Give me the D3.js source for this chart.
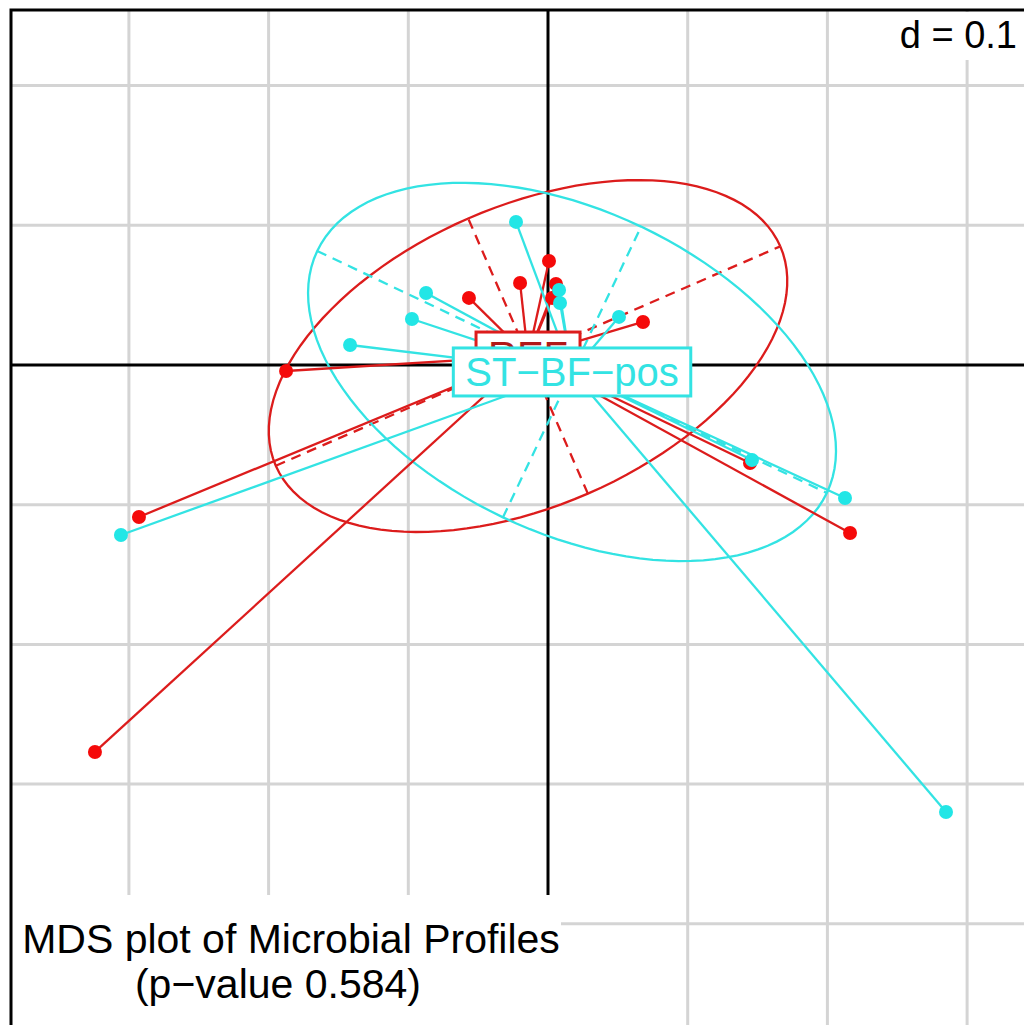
<!DOCTYPE html>
<html>
<head>
<meta charset="utf-8">
<script src="https://cdn.jsdelivr.net/npm/d3@7"></script>
<style>
  html, body { margin: 0; padding: 0; background: #fff; overflow: hidden; }
  text { font-family: "Liberation Sans", Arial, sans-serif; }
</style>
</head>
<body>
<div id="chart"></div>
<script>
// groups
const groups = ['REF', 'ST\u2212BF\u2212pos'];
const groupColors = ['#dc1c1c', '#33e3e3'];
const pointColors = ['#f50a0a', '#22e6e6'];
const labelTextColors = ['#b01818', '#33e3e3'];

// sample coordinates (MDS axis 1, axis 2)
const refX = [-0.3243, -0.2928, -0.1875, 0.2162, 0.1446, 0.0680, -0.0566, -0.0200, 0.0007, 0.0057, 0.0029];
const refY = [-0.2770, -0.1088, -0.0043, -0.1203, -0.0702, 0.0308, 0.0480, 0.0587, 0.0744, 0.0580, 0.0480];
const posX = [-0.3057, 0.2849, 0.2126, -0.1417, -0.0974, -0.0873, -0.0229, 0.0508, 0.0079, 0.0086, 0.1460];
const posY = [-0.1217, -0.3200, -0.0952, 0.0143, 0.0329, 0.0515, 0.1024, 0.0344, 0.0537, 0.0444, -0.0680];

// class centroids
const centroidX = [-0.0143, 0.0172];
const centroidY = [0.0064, -0.0050];

// ellipse semi axes and angle (degrees)
const ellipseA = [0.1969, 0.2019];
const ellipseB = [0.1074, 0.1152];
const ellipseAngle = [23.5, -25.4];

// grid
const xGrid = [-0.3, -0.2, -0.1, 0.1, 0.2, 0.3];
const yGrid = [-0.4, -0.3, -0.2, -0.1, 0.1, 0.2];

const titleLines = ['MDS plot of Microbial Profiles', '(p\u2212value 0.584)'];
const scaleLabel = 'd = 0.1';

const W = 1024, H = 1025;
const ppu = 1397;
const xFrame = [-0.3844, 0.40];
const yFrame = [-0.50, 0.2541];

const svg = d3.select('#chart').append('svg')
    .attr('width', W)
    .attr('height', H);

const xScale = d3.scaleLinear().domain(xFrame).range([11, 11 + (xFrame[1] - xFrame[0]) * ppu]);
const yScale = d3.scaleLinear().domain([yFrame[1], yFrame[0]]).range([10, 10 + (yFrame[1] - yFrame[0]) * ppu]);

svg.append('defs').append('clipPath').attr('id', 'frame')
    .append('rect')
    .attr('x', xScale(xFrame[0])).attr('y', yScale(yFrame[1]))
    .attr('width', xScale(xFrame[1]) - xScale(xFrame[0]))
    .attr('height', yScale(yFrame[0]) - yScale(yFrame[1]));

const plot = svg.append('g').attr('clip-path', 'url(#frame)');

// grid lines
plot.selectAll('.gx').data(xGrid).enter().append('line')
    .attr('x1', d => xScale(d)).attr('x2', d => xScale(d))
    .attr('y1', yScale(yFrame[1])).attr('y2', yScale(yFrame[0]))
    .style('stroke', '#d4d4d4').style('stroke-width', 3);
plot.selectAll('.gy').data(yGrid).enter().append('line')
    .attr('y1', d => yScale(d)).attr('y2', d => yScale(d))
    .attr('x1', xScale(xFrame[0])).attr('x2', xScale(xFrame[1]))
    .style('stroke', '#d4d4d4').style('stroke-width', 3);

// zero axes
plot.append('line')
    .attr('x1', xScale(0)).attr('x2', xScale(0))
    .attr('y1', yScale(yFrame[1])).attr('y2', yScale(yFrame[0]))
    .style('stroke', '#000').style('stroke-width', 3);
plot.append('line')
    .attr('y1', yScale(0)).attr('y2', yScale(0))
    .attr('x1', xScale(xFrame[0])).attr('x2', xScale(xFrame[1]))
    .style('stroke', '#000').style('stroke-width', 3);

const groupData = [
    refX.map((x, i) => ({ x: x, y: refY[i], g: 0 })),
    posX.map((x, i) => ({ x: x, y: posY[i], g: 1 }))
];

const line = d3.line().x(d => xScale(d[0])).y(d => yScale(d[1]));

// ellipses and their axes
groups.forEach((g, k) => {
    const cx = centroidX[k], cy = centroidY[k];
    const a = ellipseA[k], b = ellipseB[k];
    const th = ellipseAngle[k] * Math.PI / 180;
    const pts = d3.range(0, 121).map(i => {
        const t = i / 120 * 2 * Math.PI;
        return [cx + a * Math.cos(th) * Math.cos(t) - b * Math.sin(th) * Math.sin(t),
                cy + a * Math.sin(th) * Math.cos(t) + b * Math.cos(th) * Math.sin(t)];
    });
    plot.append('path').attr('d', line(pts))
        .style('fill', 'none').style('stroke', groupColors[k]).style('stroke-width', 2.3);

    const axes = [
        [[cx - a * Math.cos(th), cy - a * Math.sin(th)], [cx + a * Math.cos(th), cy + a * Math.sin(th)]],
        [[cx + b * Math.sin(th), cy - b * Math.cos(th)], [cx - b * Math.sin(th), cy + b * Math.cos(th)]]
    ];
    axes.forEach(seg => {
        plot.append('path').attr('d', line(seg))
            .style('fill', 'none').style('stroke', groupColors[k])
            .style('stroke-width', 2.3).style('stroke-dasharray', '10,7');
    });
});

// stars
groupData.forEach((pts, k) => {
    plot.selectAll('.star' + k).data(pts).enter().append('line')
        .attr('x1', xScale(centroidX[k])).attr('y1', yScale(centroidY[k]))
        .attr('x2', d => xScale(d.x)).attr('y2', d => yScale(d.y))
        .style('stroke', groupColors[k]).style('stroke-width', 2.3);
});

// points
groupData.forEach((pts, k) => {
    plot.selectAll('.pt' + k).data(pts).enter().append('circle')
        .attr('cx', d => xScale(d.x)).attr('cy', d => yScale(d.y))
        .attr('r', 7)
        .attr('fill', pointColors[k]);
});

// class labels
groups.forEach((g, k) => {
    const lab = plot.append('g')
        .attr('transform', `translate(${xScale(centroidX[k])},${yScale(centroidY[k])})`);
    const rect = lab.append('rect');
    const txt = lab.append('text')
        .attr('text-anchor', 'middle')
        .attr('dy', '0.36em')
        .style('font-size', '40px')
        .style('fill', labelTextColors[k])
        .text(g);
    const w = txt.node().getComputedTextLength() + 24;
    rect.attr('x', -w / 2).attr('y', -24).attr('width', w).attr('height', 48)
        .style('fill', '#fff').style('stroke', groupColors[k]).style('stroke-width', 3);
});

// scale label, top right
svg.append('rect').attr('x', 880).attr('y', 12).attr('width', 150).attr('height', 48).style('fill', '#fff');
svg.append('text')
    .attr('x', 1017).attr('y', 48)
    .attr('text-anchor', 'end')
    .style('font-size', '38px')
    .text(scaleLabel);

// subtitle
const titleX = [291, 278];
svg.append('rect')
    .attr('x', 12).attr('y', 895).attr('width', 549).attr('height', 140)
    .style('fill', '#fff');
svg.selectAll('.title').data(titleLines).enter().append('text')
    .attr('x', (d, i) => titleX[i]).attr('y', (d, i) => 953 + i * 45)
    .attr('text-anchor', 'middle')
    .style('font-size', '41px')
    .text(d => d);

// frame
svg.append('rect')
    .attr('x', xScale(xFrame[0])).attr('y', yScale(yFrame[1]))
    .attr('width', xScale(xFrame[1]) - xScale(xFrame[0]))
    .attr('height', yScale(yFrame[0]) - yScale(yFrame[1]))
    .style('fill', 'none').style('stroke', '#000').style('stroke-width', 3);
</script>
</body>
</html>
